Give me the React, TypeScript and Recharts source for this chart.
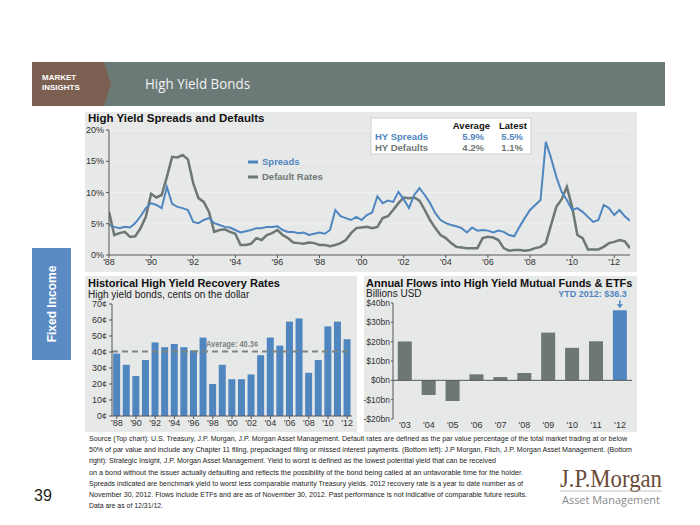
import React from "react";
import {
  LineChart,
  Line,
  BarChart,
  Bar,
  Cell,
  LabelList,
  XAxis,
  YAxis,
  CartesianGrid,
  ReferenceLine,
} from "recharts";

const FONT = '"Liberation Sans", Arial, sans-serif';
const BLUE = "#4f86c0";
const GREY = "#6d7774";
const PANEL = "#e7e8e8";
const AXIS = "#555";
const TICK = { fontSize: 9, fill: "#333", fontFamily: FONT };

// top chart: quarterly readings, 1988 Q1 .. 2012 Q4
const startYear = 1988;
const spreads = [
  4.8, 4.5, 4.3, 4.5, 4.4, 5.1, 6.2, 7.5, 8.3, 8.0, 7.5, 10.9, 8.2, 7.7, 7.5, 7.2,
  5.3, 5.1, 5.6, 5.9, 5.1, 4.8, 4.5, 4.4, 4.0, 3.6, 3.8, 4.0, 4.3, 4.3, 4.5, 4.5,
  4.6, 4.0, 3.7, 3.7, 3.5, 3.6, 3.2, 3.4, 3.6, 3.4, 4.0, 7.2, 6.2, 5.9, 5.6, 6.1,
  5.6, 6.4, 6.8, 9.4, 8.3, 8.7, 8.5, 10.1, 8.9, 7.5, 9.6, 10.7, 9.6, 8.3, 6.7, 5.6,
  5.1, 4.8, 4.6, 4.3, 3.6, 4.4, 3.9, 4.0, 3.9, 3.6, 3.9, 3.7, 3.2, 3.0, 4.5, 5.9,
  7.2, 8.0, 8.8, 18.1, 15.5, 12.5, 10.1, 8.8, 7.2, 7.5, 6.9, 6.1, 5.3, 5.6, 8.0, 7.5,
  6.4, 7.2, 6.2, 5.5,
];
const defaults = [
  6.9, 3.2, 3.5, 3.7, 2.9, 3.0, 4.3, 6.1, 9.8, 9.2, 9.6, 12.5, 15.7, 15.6, 16.0, 15.3,
  11.5, 9.1, 8.5, 6.9, 3.7, 4.0, 4.1, 3.7, 3.4, 1.6, 1.6, 1.8, 2.7, 2.4, 3.2, 3.5,
  4.0, 3.2, 2.7, 2.0, 1.9, 1.8, 2.0, 1.9, 1.6, 1.6, 1.4, 1.6, 1.9, 2.4, 3.5, 4.3,
  4.4, 4.5, 4.3, 4.5, 5.9, 6.2, 7.2, 8.3, 9.2, 9.1, 9.2, 8.7, 7.2, 5.6, 4.3, 3.2,
  2.7, 1.9, 1.3, 1.2, 1.1, 1.1, 1.1, 2.7, 2.9, 2.8, 2.4, 1.1, 0.7, 0.8, 0.8, 0.7,
  0.8, 1.1, 1.3, 1.9, 4.8, 7.7, 8.9, 10.9, 7.7, 3.2, 2.7, 0.9, 0.9, 0.9, 1.3, 1.9,
  2.1, 2.4, 2.2, 1.1,
];
const yearTicks = [1988, 1990, 1992, 1994, 1996, 1998, 2000, 2002, 2004, 2006, 2008, 2010, 2012];
const pctTicks = [0, 5, 10, 15, 20];

// bottom left: recovery rates
const recoveryYears = [
  "'88", "'89", "'90", "'91", "'92", "'93", "'94", "'95", "'96", "'97", "'98", "'99", "'00",
  "'01", "'02", "'03", "'04", "'05", "'06", "'07", "'08", "'09", "'10", "'11", "'12",
];
const recovery = [39, 32, 25, 35, 46, 43, 45, 43, 41, 49, 20, 32, 23, 23, 26, 38, 49, 44, 59, 61, 27, 35, 56, 59, 48];
const recoveryAvg = 40.3;
const centTicks = [0, 10, 20, 30, 40, 50, 60, 70];

// bottom right: fund flows
const flowYears = ["'03", "'04", "'05", "'06", "'07", "'08", "'09", "'10", "'11", "'12"];
const flows = [20.1, -7.6, -10.7, 3.1, 1.7, 3.8, 24.7, 16.8, 20.2, 36.3];
const flowTicks = [-20, -10, 0, 10, 20, 30, 40];

const lineData = spreads.map((s, i) => ({ t: startYear + i / 4, spreads: s, defaults: defaults[i] }));
const recoveryData = recoveryYears.map((y, i) => ({ year: y, rate: recovery[i] }));
const flowData = flowYears.map((y, i) => ({ year: y, flow: flows[i] }));

const footer = [
  ["Source (Top chart): U.S. Treasury, J.P. Morgan, J.P. Morgan Asset Management. Default rates are defined as the par value percentage of the total market trading at or below", 538],
  ["50% of par value and include any Chapter 11 filing, prepackaged filing or missed interest payments. (Bottom left): J.P Morgan, Fitch, J.P. Morgan Asset Management. (Bottom", 543],
  ["right): Strategic Insight, J.P. Morgan Asset Management. Yield to worst is defined as the lowest potential yield that can be received", 407],
  ["on a bond without the issuer actually defaulting and reflects the possibility of the bond being called at an unfavorable time for the holder.", 434],
  ["Spreads indicated are benchmark yield to worst less comparable maturity Treasury yields. 2012 recovery rate is a year to date number as of", 434],
  ["November 30, 2012. Flows include ETFs and are as of November 30, 2012. Past performance is not indicative of comparable  future results.", 438],
  ["Data are as of 12/31/12.", 74],
] as const;

function YtdLabel(p: any) {
  if (p.index !== flows.length - 1) return null;
  const cx = p.x + p.width / 2;
  return (
    <g>
      <text x={cx + 7} y={p.y - 13} textAnchor="end" fontSize={9} fontWeight="bold" fill={BLUE} fontFamily={FONT}>
        YTD 2012:  $36.3
      </text>
      <line x1={cx} y1={p.y - 10} x2={cx} y2={p.y - 5} stroke={BLUE} strokeWidth={1.5} />
      <path d={`M${cx - 3},${p.y - 6} L${cx + 3},${p.y - 6} L${cx},${p.y - 2} Z`} fill={BLUE} />
    </g>
  );
}

function AvgLabel(p: any) {
  const vb = p.viewBox;
  return (
    <text
      x={vb.x + vb.width * 0.5}
      y={vb.y - 5}
      textAnchor="middle"
      fontSize={8.5}
      fontWeight="bold"
      fill="#7d8583"
      fontFamily={FONT}
      textLength={52}
      lengthAdjust="spacingAndGlyphs"
    >
      Average: 40.3¢
    </text>
  );
}

export default function App() {
  return (
    <div style={{ position: "absolute", left: 0, top: 0, width: 700, height: 525, background: "#fff", overflow: "hidden", fontFamily: FONT }}>
      <svg width={700} height={525} style={{ position: "absolute", left: 0, top: 0 }}>
        {/* header band */}
        <rect x={32} y={62} width={633} height={44} fill="#6b7977" />
        <polygon points="32,62 104,62 111,84 104,106 32,106" fill="#7b6052" />
        <text x={42} y={80} fontSize={8} fontWeight="bold" fill="#fff" fontFamily={FONT}>MARKET</text>
        <text x={42} y={90} fontSize={8} fontWeight="bold" fill="#fff" fontFamily={FONT}>INSIGHTS</text>
        <text x={145} y={89} fontSize={15} fill="#f2f2f2" fontFamily='"Open Sans", sans-serif' textLength={105} lengthAdjust="spacingAndGlyphs">High Yield Bonds</text>

        {/* side tab */}
        <rect x={32} y={248} width={39} height={112} fill="#5a8bc2" />
        <text x={0} y={0} transform="translate(56,304) rotate(-90)" textAnchor="middle" fontSize={12} fontWeight="bold" fill="#fff" fontFamily={FONT}>
          Fixed Income
        </text>

        {/* panels */}
        <rect x={85} y={112} width={552} height={160} fill={PANEL} />
        <rect x={85} y={276} width={272} height={156} fill={PANEL} />
        <rect x={364} y={276} width={273} height={156} fill={PANEL} />

        <text x={88} y={122} fontSize={11.5} fontWeight="bold" fill="#111" fontFamily={FONT}>High Yield Spreads and Defaults</text>
        <text x={88} y={287} fontSize={11} fontWeight="bold" fill="#111" fontFamily={FONT}>Historical High Yield Recovery Rates</text>
        <text x={88} y={298} fontSize={10} fill="#222" fontFamily={FONT}>High yield bonds, cents on the dollar</text>
        <text x={366} y={287} fontSize={11} fontWeight="bold" fill="#111" fontFamily={FONT}>Annual Flows into High Yield Mutual Funds &amp; ETFs</text>
        <text x={366} y={297} fontSize={10} fill="#222" fontFamily={FONT}>Billions USD</text>

        {/* footer */}
        {footer.map(([line, w], i) => (
          <text key={i} x={89} y={441 + i * 11.2} fontSize={8} fill="#222" fontFamily={FONT} textLength={w} lengthAdjust="spacingAndGlyphs">
            {line}
          </text>
        ))}
        <text x={34} y={501} fontSize={16} fill="#222" fontFamily={FONT}>39</text>
        <text x={560} y={487} fontSize={25} fill="#6b4a3a" fontFamily='"Liberation Serif", serif' textLength={102} lengthAdjust="spacingAndGlyphs">J.P.Morgan</text>
        <line x1={560} y1={491} x2={662} y2={491} stroke="#b5b5b5" strokeWidth={0.8} />
        <text x={562} y={504} fontSize={11.5} fill="#8a8a8a" fontFamily='"Open Sans", sans-serif' textLength={98} lengthAdjust="spacingAndGlyphs">Asset Management</text>
      </svg>

      <div style={{ position: "absolute", left: 85, top: 112 }}>
        <LineChart width={552} height={160} data={lineData} margin={{ top: 18, right: 7, bottom: 0, left: 0 }}>
          <CartesianGrid vertical={false} stroke="#f1f1f1" />
          <XAxis
            type="number"
            dataKey="t"
            domain={[1988, 2012.75]}
            ticks={yearTicks}
            tickFormatter={(v) => `'${String(v).slice(2)}`}
            tick={TICK}
            stroke={AXIS}
            tickSize={3}
            tickMargin={1}
            height={17}
            allowDataOverflow
          />
          <YAxis
            domain={[0, 20]}
            ticks={pctTicks}
            tickFormatter={(v) => `${v}%`}
            tick={TICK}
            stroke={AXIS}
            tickSize={3}
            tickMargin={2}
            width={24}
          />
          <Line type="linear" dataKey="defaults" stroke={GREY} strokeWidth={2.5} dot={false} isAnimationActive={false} />
          <Line type="linear" dataKey="spreads" stroke={BLUE} strokeWidth={2} dot={false} isAnimationActive={false} />
        </LineChart>
      </div>

      <div style={{ position: "absolute", left: 85, top: 276 }}>
        <BarChart width={272} height={156} data={recoveryData} margin={{ top: 28, right: 5, bottom: 0, left: 0 }} barCategoryGap="12%">
          <XAxis dataKey="year" interval={1} tick={TICK} stroke={AXIS} tickSize={3} tickMargin={1} height={16} />
          <YAxis
            domain={[0, 70]}
            ticks={centTicks}
            tickFormatter={(v) => `${v}¢`}
            tick={TICK}
            stroke={AXIS}
            tickSize={3}
            tickMargin={2}
            width={27}
          />
          <Bar dataKey="rate" fill={BLUE} isAnimationActive={false} />
          <ReferenceLine y={recoveryAvg} stroke="#7d8583" strokeWidth={2} strokeDasharray="6 4" label={<AvgLabel />} />
        </BarChart>
      </div>

      <div style={{ position: "absolute", left: 360, top: 276 }}>
        <BarChart width={277} height={156} data={flowData} margin={{ top: 27, right: 5, bottom: 0, left: 0 }} barCategoryGap="20%">
          <XAxis dataKey="year" tick={TICK} axisLine={false} tickLine={false} tickSize={0} tickMargin={3} height={13} />
          <YAxis
            domain={[-20, 40]}
            ticks={flowTicks}
            tickFormatter={(v) => (v < 0 ? `-$${-v}bn` : `$${v}bn`)}
            tick={{ ...TICK, fontSize: 8.5 }}
            stroke={AXIS}
            tickSize={2}
            tickMargin={1}
            width={33}
          />
          <ReferenceLine y={0} stroke={AXIS} />
          <Bar dataKey="flow" isAnimationActive={false}>
            {flowData.map((d, i) => (
              <Cell key={d.year} fill={i === flowData.length - 1 ? BLUE : GREY} />
            ))}
            <LabelList dataKey="flow" content={<YtdLabel />} />
          </Bar>
        </BarChart>
      </div>

      {/* legend and summary table sit above the plot */}
      <svg width={700} height={525} style={{ position: "absolute", left: 0, top: 0, pointerEvents: "none" }}>
        <line x1={248} y1={162} x2={258} y2={162} stroke={BLUE} strokeWidth={3} />
        <text x={262} y={165} fontSize={9.5} fontWeight="bold" fill={BLUE} fontFamily={FONT}>Spreads</text>
        <line x1={248} y1={177} x2={258} y2={177} stroke={GREY} strokeWidth={3} />
        <text x={262} y={180} fontSize={9.5} fontWeight="bold" fill={GREY} fontFamily={FONT}>Default Rates</text>

        <rect x={371} y={118} width={160} height={36} fill="#fff" stroke="#cfd2d1" />
        <text x={490} y={129} textAnchor="end" fontSize={9.5} fontWeight="bold" fill="#111" fontFamily={FONT}>Average</text>
        <text x={527} y={129} textAnchor="end" fontSize={9.5} fontWeight="bold" fill="#111" fontFamily={FONT}>Latest</text>
        <text x={375} y={140} fontSize={9.5} fontWeight="bold" fill={BLUE} fontFamily={FONT}>HY Spreads</text>
        <text x={484} y={140} textAnchor="end" fontSize={9.5} fontWeight="bold" fill={BLUE} fontFamily={FONT}>5.9%</text>
        <text x={523} y={140} textAnchor="end" fontSize={9.5} fontWeight="bold" fill={BLUE} fontFamily={FONT}>5.5%</text>
        <text x={375} y={151} fontSize={9.5} fontWeight="bold" fill={GREY} fontFamily={FONT}>HY Defaults</text>
        <text x={484} y={151} textAnchor="end" fontSize={9.5} fontWeight="bold" fill={GREY} fontFamily={FONT}>4.2%</text>
        <text x={523} y={151} textAnchor="end" fontSize={9.5} fontWeight="bold" fill={GREY} fontFamily={FONT}>1.1%</text>
      </svg>
    </div>
  );
}
